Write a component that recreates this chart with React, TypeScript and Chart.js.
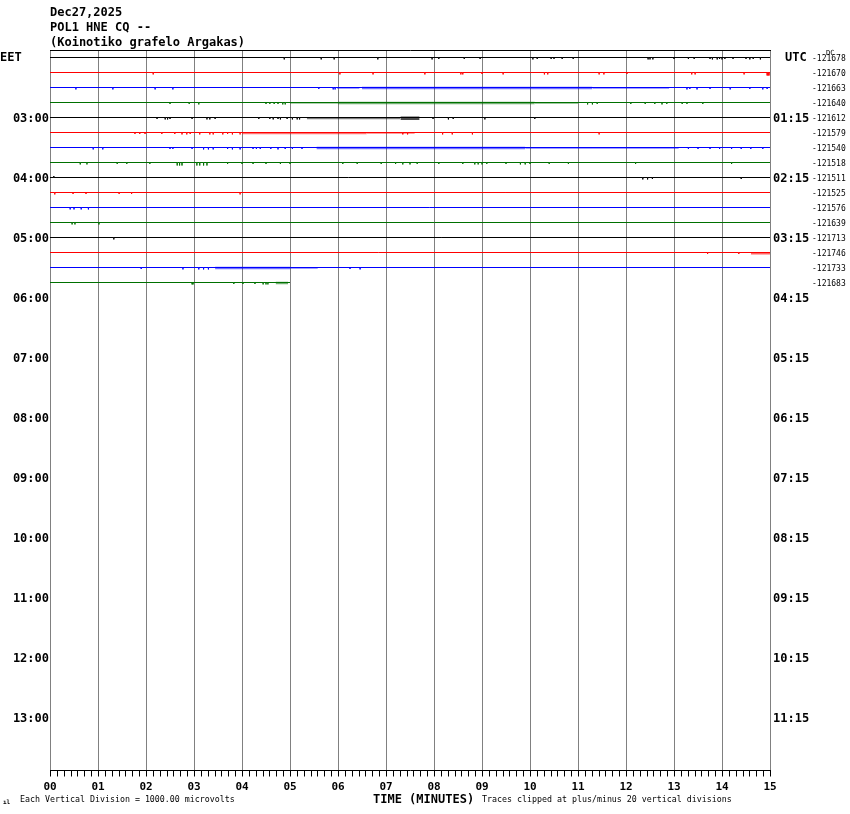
import React, { useEffect, useRef } from "react";
import { Chart, registerables } from "chart.js";

Chart.register(...registerables);

// ---------------- data ----------------
const HEADER_LINES = ["Dec27,2025", "POL1 HNE CQ --", "(Koinotiko grafelo Argakas)"];
const TRACE_COLORS = ["#000000", "#ff0000", "#0000ff", "#007000"];
const EET_HOURS = ["03:00", "04:00", "05:00", "06:00", "07:00", "08:00", "09:00", "10:00", "11:00", "12:00", "13:00"];
const UTC_HOURS = ["01:15", "02:15", "03:15", "04:15", "05:15", "06:15", "07:15", "08:15", "09:15", "10:15", "11:15"];
const DC_OFFSETS = [
  -121678, -121670, -121663, -121640, -121612, -121579, -121540, -121518,
  -121511, -121525, -121576, -121639, -121713, -121746, -121733, -121683,
];
const MINUTE_LABELS = ["00", "01", "02", "03", "04", "05", "06", "07", "08", "09", "10", "11", "12", "13", "14", "15"];
// minute at which each recorded trace ends
const TRACE_END_MIN = [15, 15, 15, 15, 15, 15, 15, 15, 15, 15, 15, 15, 15, 15, 15, 5.0];
const ROWS_PER_PAGE = 48;
const MINUTES_PER_ROW = 15;
const SUBTICKS_PER_MINUTE = 7;

// spikes per trace: [minute, deflection in row units (+ = down)]
const SPIKES: [number, number][][] = [
  [[4.88, .13], [5.65, .13], [5.92, .13], [6.83, .13], [7.96, .13], [8.1, .1], [8.63, .1], [8.96, .1], [10.06, .13], [10.15, .1], [10.44, .1], [10.5, .1], [10.67, .1], [10.9, .1], [12.46, .13], [12.5, .13], [12.56, .13], [13.0, .1], [13.3, .1], [13.42, .1], [13.75, .1], [13.8, .13], [13.9, .13], [13.95, .1], [14.0, .13], [14.06, .1], [14.23, .1], [14.5, .1], [14.58, .13], [14.65, .1], [14.8, .13]],
  [[2.15, .13], [6.04, .13], [6.73, .13], [7.81, .13], [8.56, .13], [8.6, .13], [9.0, .1], [9.44, .13], [10.3, .13], [10.37, .13], [11.44, .13], [11.54, .13], [12.02, .1], [13.37, .13], [13.44, .13], [14.46, .13], [14.94, .2], [14.96, .2], [14.98, .2]],
  [[0.54, .13], [1.31, .13], [2.19, .13], [2.56, .13], [5.6, .1], [5.9, .13], [5.94, .13], [13.27, .13], [13.33, .1], [13.48, .13], [13.75, .1], [14.17, .13], [14.58, .1], [14.85, .13], [14.94, .1]],
  [[2.5, .1], [2.9, .1], [3.1, .13], [4.5, .1], [4.58, .1], [4.67, .1], [4.75, .1], [4.85, .13], [4.9, .13], [11.2, .13], [11.3, .13], [11.4, .1], [12.1, .1], [12.4, .1], [12.6, .1], [12.75, .13], [12.85, .1], [13.17, .1], [13.27, .1], [13.6, .1]],
  [[2.23, .1], [2.4, .13], [2.45, .13], [2.5, .1], [2.96, .1], [3.27, .13], [3.33, .13], [3.44, .1], [4.35, .1], [4.58, .1], [4.65, .13], [4.75, .1], [4.8, .13], [4.94, .1], [5.05, .13], [5.15, .13], [5.2, .13], [7.98, .1], [8.3, .13], [8.4, .1], [9.06, .13], [10.1, .1]],
  [[1.77, .1], [1.87, .1], [1.98, .1], [2.33, .1], [2.6, .1], [2.75, .13], [2.85, .13], [2.92, .1], [3.12, .13], [3.33, .13], [3.4, .13], [3.6, .13], [3.7, .1], [3.8, .13], [3.96, .13], [7.35, .13], [7.45, .13], [8.18, .13], [8.38, .13], [8.8, .13], [11.44, .13]],
  [[0.9, .13], [1.1, .13], [2.5, .1], [2.56, .1], [2.96, .1], [3.2, .13], [3.3, .13], [3.4, .13], [3.7, .1], [3.8, .13], [3.96, .13], [4.23, .1], [4.3, .1], [4.38, .1], [4.6, .1], [4.75, .13], [4.9, .1], [5.05, .1], [5.25, .1], [13.3, .1], [13.5, .1], [13.75, .1], [13.95, .1], [14.2, .1], [14.4, .1], [14.6, .1], [14.85, .1]],
  [[0.63, .13], [0.77, .13], [1.4, .1], [1.6, .1], [2.08, .1], [2.65, .2], [2.7, .2], [2.75, .2], [3.06, .2], [3.12, .2], [3.2, .2], [3.27, .2], [3.7, .1], [4.0, .1], [4.23, .1], [4.5, .1], [4.8, .1], [5.0, .1], [6.1, .1], [6.4, .1], [6.9, .1], [7.2, .1], [7.35, .13], [7.5, .13], [7.65, .1], [8.1, .1], [8.6, .1], [8.85, .13], [8.92, .13], [9.0, .13], [9.1, .1], [9.5, .1], [9.8, .13], [9.9, .13], [10.0, .1], [10.4, .1], [10.8, .1], [12.2, .1], [14.2, .1]],
  [[0.08, -.1], [12.35, .13], [12.45, .13], [12.55, .1], [14.4, .1]],
  [[0.1, .13], [0.48, .1], [0.75, .1], [1.44, .1], [1.7, .1], [3.96, .13]],
  [[0.42, .13], [0.5, .13], [0.65, .13], [0.8, .13]],
  [[0.46, .13], [0.52, .13], [1.02, .13]],
  [[1.33, .13]],
  [[13.7, .1], [14.35, .1]],
  [[1.9, .1], [2.77, .13], [3.1, .13], [3.2, .13], [3.3, .13], [6.25, .1], [6.46, .13]],
  [[2.96, .13], [2.98, .13], [3.83, .1], [4.02, .1], [4.27, .1], [4.44, .13], [4.5, .13], [4.54, .13]],
];

// dense noise envelopes: [trace, start min, end min, up, down (row units), density 0-1]
const NOISE_BANDS: [number, number, number, number, number, number][] = [
  [2, 5.98, 6.45, 0.02, 0.1, 0.38],
  [2, 6.5, 11.3, 0.05, 0.12, 0.55],
  [2, 11.3, 12.9, 0.02, 0.1, 0.38],
  [3, 5.0, 6.0, 0.02, 0.1, 0.32],
  [3, 6.0, 10.1, 0.05, 0.12, 0.55],
  [3, 10.1, 11.0, 0.02, 0.1, 0.38],
  [4, 5.35, 7.3, 0.04, 0.12, 0.5],
  [4, 7.3, 7.7, 0.06, 0.17, 0.7],
  [5, 4.0, 6.6, 0.04, 0.12, 0.55],
  [5, 6.6, 7.6, 0.02, 0.1, 0.38],
  [6, 5.55, 9.9, 0.05, 0.12, 0.55],
  [6, 9.9, 13.1, 0.02, 0.1, 0.38],
  [13, 14.6, 15.0, 0.0, 0.13, 0.6],
  [14, 3.44, 5.0, 0.05, 0.12, 0.55],
  [14, 5.0, 5.58, 0.02, 0.1, 0.38],
  [15, 4.7, 4.96, 0.05, 0.12, 0.55],
];

// ---------------- helpers ----------------
function hexToRgba(hex: string, a: number) {
  const n = parseInt(hex.slice(1), 16);
  return `rgba(${(n >> 16) & 255},${(n >> 8) & 255},${n & 255},${a})`;
}

function traceData(i: number) {
  const end = TRACE_END_MIN[i];
  const pts: { x: number; y: number }[] = [{ x: 0, y: i }];
  const sp = [...SPIKES[i]].sort((a, b) => a[0] - b[0]);
  for (const [t, a] of sp) {
    if (t > end) continue;
    pts.push({ x: t, y: i }, { x: t, y: i + a }, { x: t, y: i });
  }
  pts.push({ x: end, y: i });
  return pts;
}

const MONO = '"DejaVu Sans Mono", "Liberation Mono", monospace';

const decorPlugin = {
  id: "heliDecor",
  beforeDatasetsDraw(chart: any) {
    const { ctx, chartArea, scales } = chart;
    const xs = scales.x;
    ctx.save();
    ctx.lineWidth = 1;
    ctx.strokeStyle = "#808080";
    for (let m = 0; m <= MINUTES_PER_ROW; m++) {
      const px = Math.round(xs.getPixelForValue(m)) + 0.5;
      ctx.beginPath();
      ctx.moveTo(px, chartArea.top);
      ctx.lineTo(px, chartArea.bottom);
      ctx.stroke();
    }
    ctx.strokeStyle = "#000000";
    ctx.beginPath();
    ctx.moveTo(chartArea.left, chartArea.top + 0.5);
    ctx.lineTo(chartArea.right + 1, chartArea.top + 0.5);
    ctx.stroke();
    ctx.restore();
  },
  afterDatasetsDraw(chart: any) {
    const { ctx, chartArea, scales } = chart;
    const xs = scales.x;
    const ys = scales.y;
    ctx.save();
    // bottom axis
    ctx.strokeStyle = "#000000";
    ctx.lineWidth = 1;
    const by = chartArea.bottom + 0.5;
    ctx.beginPath();
    ctx.moveTo(chartArea.left, by);
    ctx.lineTo(chartArea.right + 1, by);
    ctx.stroke();
    for (let k = 0; k <= MINUTES_PER_ROW * SUBTICKS_PER_MINUTE; k++) {
      const px = Math.round(xs.getPixelForValue(k / SUBTICKS_PER_MINUTE)) + 0.5;
      ctx.beginPath();
      ctx.moveTo(px, by);
      ctx.lineTo(px, by + 6);
      ctx.stroke();
    }
    ctx.fillStyle = "#000000";
    ctx.textBaseline = "middle";
    // minute labels
    ctx.font = `bold 11px ${MONO}`;
    ctx.textAlign = "center";
    MINUTE_LABELS.forEach((lab, m) => {
      ctx.fillText(lab, xs.getPixelForValue(m), 787);
    });
    // header
    ctx.font = `bold 12px ${MONO}`;
    ctx.textAlign = "left";
    HEADER_LINES.forEach((t, k) => ctx.fillText(t, 50, 12.5 + k * 15));
    // EET / UTC
    const row0 = ys.getPixelForValue(0) + 0.5;
    ctx.fillText("EET", 0, row0);
    ctx.fillText("UTC", 785, row0);
    ctx.textAlign = "right";
    EET_HOURS.forEach((t, k) => ctx.fillText(t, 49, ys.getPixelForValue((k + 1) * 4) + 1));
    ctx.textAlign = "left";
    UTC_HOURS.forEach((t, k) => ctx.fillText(t, 773, ys.getPixelForValue((k + 1) * 4) + 1));
    ctx.fillText("TIME (MINUTES)", 373, 799.5);
    // DC offsets
    ctx.font = `8px ${MONO}`;
    DC_OFFSETS.forEach((v, i) => ctx.fillText(String(v), 812, ys.getPixelForValue(i) + 1));
    ctx.font = `7px ${MONO}`;
    ctx.fillText("DC", 826, 53);
    // bottom notes
    ctx.font = `8.3px ${MONO}`;
    ctx.fillText("Each Vertical Division = 1000.00 microvolts", 20, 800);
    ctx.fillText("Traces clipped at plus/minus 20 vertical divisions", 482, 800);
    ctx.font = `bold 6px ${MONO}`;
    ctx.fillText("ıl", 3, 802);
    ctx.restore();
  },
};

export default function App() {
  const canvasRef = useRef<HTMLCanvasElement | null>(null);

  useEffect(() => {
    const canvas = canvasRef.current;
    if (!canvas) return;

    const datasets: any[] = [];
    for (let i = 0; i < DC_OFFSETS.length; i++) {
      datasets.push({
        label: `trace${i}`,
        data: traceData(i),
        borderColor: TRACE_COLORS[i % 4],
        borderWidth: 1,
        pointRadius: 0,
        tension: 0,
        fill: false,
      });
    }
    NOISE_BANDS.forEach(([tr, s, e, up, down, dens]) => {
      datasets.push({
        label: `band${tr}`,
        data: [
          { x: s, y: tr + down },
          { x: e, y: tr + down },
        ],
        borderColor: "rgba(0,0,0,0)",
        borderWidth: 1,
        pointRadius: 0,
        tension: 0,
        fill: { value: tr - up },
        backgroundColor: hexToRgba(TRACE_COLORS[tr % 4], dens),
      });
    });

    const chart = new Chart(canvas, {
      type: "line",
      data: { datasets },
      options: {
        animation: false,
        responsive: false,
        devicePixelRatio: 1,
        layout: { padding: { left: 50, right: 80, top: 50, bottom: 44 } },
        scales: {
          x: { type: "linear", min: 0, max: MINUTES_PER_ROW, display: false },
          y: { type: "linear", min: -0.5, max: ROWS_PER_PAGE - 0.5, reverse: true, display: false },
        },
        plugins: {
          legend: { display: false },
          tooltip: { enabled: false },
        },
        events: [],
      },
      plugins: [decorPlugin],
    } as any);

    return () => chart.destroy();
  }, []);

  return (
    <div style={{ position: "absolute", left: 0, top: 0, width: 850, height: 814, background: "#ffffff" }}>
      <canvas ref={canvasRef} width={850} height={814} style={{ display: "block" }} />
    </div>
  );
}
